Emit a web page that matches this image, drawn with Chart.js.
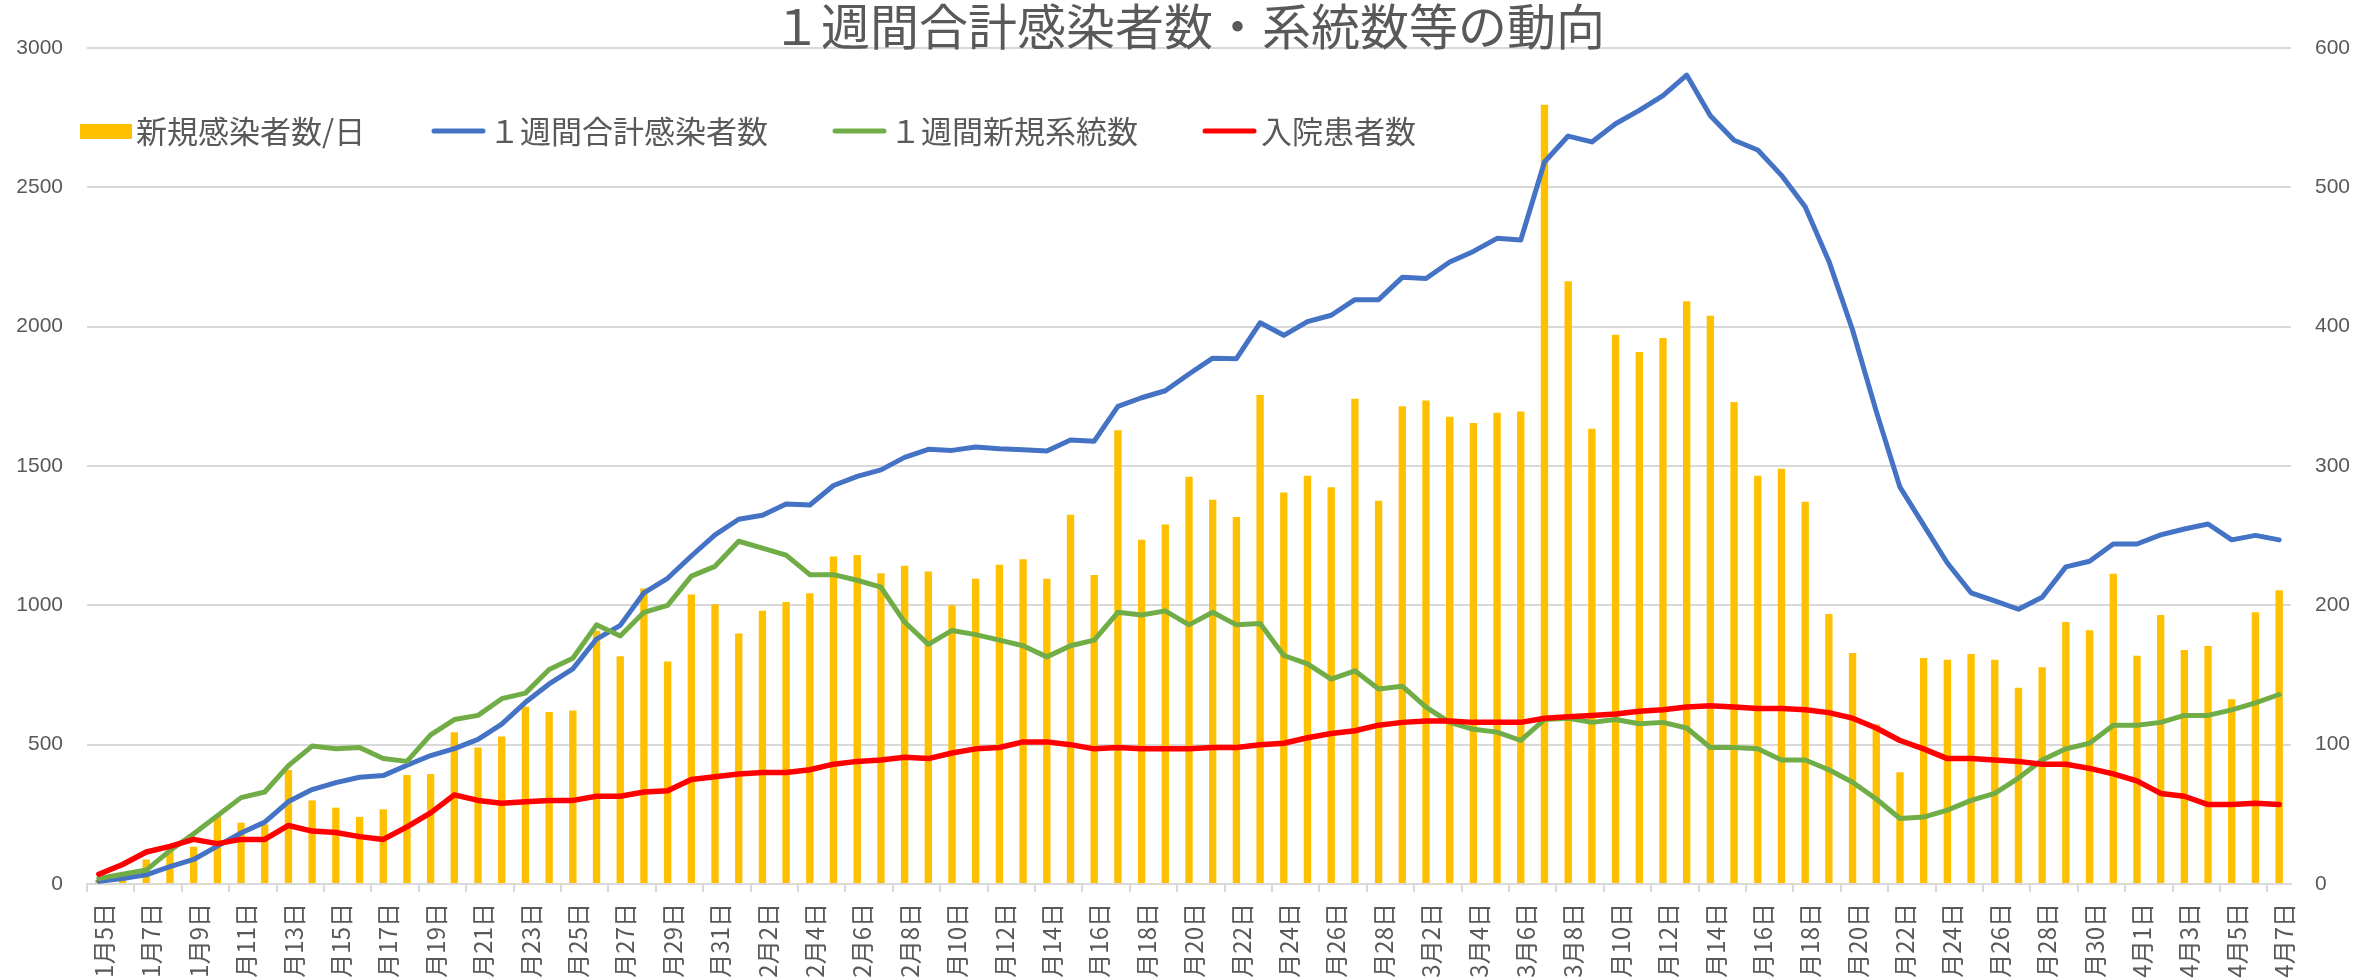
<!DOCTYPE html>
<html><head><meta charset="utf-8">
<script src="https://cdn.jsdelivr.net/npm/chart.js@4/dist/chart.umd.min.js"></script>
<style>html,body{margin:0;padding:0;background:#fff;overflow:hidden}canvas{display:block}</style>
</head><body>
<canvas id="c" width="2377" height="978"></canvas>
<script>
const categories = [
 '1月5日','1月6日','1月7日','1月8日','1月9日','1月10日','1月11日','1月12日','1月13日','1月14日',
 '1月15日','1月16日','1月17日','1月18日','1月19日','1月20日','1月21日','1月22日','1月23日','1月24日',
 '1月25日','1月26日','1月27日','1月28日','1月29日','1月30日','1月31日',
 '2月1日','2月2日','2月3日','2月4日','2月5日','2月6日','2月7日','2月8日','2月9日','2月10日',
 '2月11日','2月12日','2月13日','2月14日','2月15日','2月16日','2月17日','2月18日','2月19日','2月20日',
 '2月21日','2月22日','2月23日','2月24日','2月25日','2月26日','2月27日','2月28日',
 '3月1日','3月2日','3月3日','3月4日','3月5日','3月6日','3月7日','3月8日','3月9日','3月10日',
 '3月11日','3月12日','3月13日','3月14日','3月15日','3月16日','3月17日','3月18日','3月19日','3月20日',
 '3月21日','3月22日','3月23日','3月24日','3月25日','3月26日','3月27日','3月28日','3月29日','3月30日','3月31日',
 '4月1日','4月2日','4月3日','4月4日','4月5日','4月6日','4月7日'
];
// 新規感染者数/日 (left axis)
const newCases = [
 15,40,88,140,134,243,220,214,409,300,
 274,241,268,391,395,545,490,529,636,617,
 623,909,817,1060,798,1039,1004,899,981,1012,
 1043,1175,1181,1115,1142,1121,1000,1095,1146,1165,
 1095,1325,1109,1628,1235,1290,1461,1379,1317,1755,
 1405,1465,1424,1741,1375,1714,1735,1677,1654,1691,
 1696,2796,2163,1634,1971,1909,1959,2091,2039,1730,
 1465,1490,1372,969,829,572,401,811,805,825,
 805,704,778,940,911,1113,819,965,840,854,
 663,975,1054
];
// １週間合計感染者数 (left axis)
const weeklyTotal = [
 10,20,33,62,88,136,183,222,296,339,
 364,383,389,426,461,486,519,574,652,718,
 772,879,928,1045,1097,1177,1253,1309,1323,1364,
 1360,1430,1463,1486,1531,1560,1556,1568,1562,1558,
 1554,1593,1589,1714,1745,1770,1830,1887,1885,2014,
 1969,2018,2041,2097,2097,2177,2173,2232,2270,2317,
 2311,2591,2684,2663,2728,2776,2829,2903,2757,2669,
 2634,2543,2430,2235,1988,1696,1424,1288,1152,1045,
 1016,986,1029,1138,1158,1220,1220,1253,1274,1292,
 1235,1251,1235
];
// １週間新規系統数 (right axis)
const weeklyClusters = [
 4,7,10,24,36,49,62,66,85,99,
 97,98,90,88,107,118,121,133,137,154,
 162,186,178,195,200,221,228,246,241,236,
 222,222,218,213,188,172,182,179,175,171,
 163,171,175,195,193,196,186,195,186,187,
 164,158,147,153,140,142,127,116,111,109,
 103,118,119,116,118,115,116,112,98,98,
 97,89,89,82,73,61,47,48,53,60,
 65,76,89,97,101,114,114,116,121,121,
 125,130,136
];
// 入院患者数 (right axis)
const hospitalized = [
 7,14,23,27,32,29,32,32,42,38,
 37,34,32,41,51,64,60,58,59,60,
 60,63,63,66,67,75,77,79,80,80,
 82,86,88,89,91,90,94,97,98,102,
 102,100,97,98,97,97,97,98,98,100,
 101,105,108,110,114,116,117,117,116,116,
 116,119,120,121,122,124,125,127,128,127,
 126,126,125,123,119,112,103,97,90,90,
 89,88,86,86,83,79,74,65,63,57,
 57,58,57
];
const leftTicks = [0,500,1000,1500,2000,2500,3000];
const rightTicks = [0,100,200,300,400,500,600];
const seriesNames = ['新規感染者数/日','１週間合計感染者数','１週間新規系統数','入院患者数'];
const seriesColors = ['#FFC000','#4472C4','#70AD47','#FF0000'];
const titleText = '１週間合計感染者数・系統数等の動向';

const GRAY = '#595959';
const GRID = '#d9d9d9';
const CJK = '"Noto Sans CJK JP", "Noto Sans", sans-serif';
const NUMFONT = '"Liberation Sans", Arial, sans-serif';

const legendPlugin = {
  id: 'customLegend',
  afterDraw(chart) {
    const ctx = chart.ctx;
    const y = 131;
    const items = [
      {kind:'box', x0:80, x1:132, tx:136},
      {kind:'line', x0:431, x1:486, tx:489},
      {kind:'line', x0:832, x1:887, tx:890},
      {kind:'line', x0:1202, x1:1257, tx:1261}
    ];
    ctx.save();
    ctx.font = '31px ' + CJK;
    ctx.textBaseline = 'middle';
    ctx.textAlign = 'left';
    items.forEach((it, i) => {
      if (it.kind === 'box') {
        ctx.fillStyle = seriesColors[i];
        ctx.fillRect(it.x0, y - 7, it.x1 - it.x0, 15);
      } else {
        ctx.strokeStyle = seriesColors[i];
        ctx.lineWidth = 5;
        ctx.lineCap = 'round';
        ctx.beginPath();
        ctx.moveTo(it.x0 + 3, y);
        ctx.lineTo(it.x1 - 3, y);
        ctx.stroke();
      }
      ctx.fillStyle = GRAY;
      ctx.fillText(seriesNames[i], it.tx, y);
    });
    ctx.restore();
  }
};

new Chart(document.getElementById('c'), {
  type: 'bar',
  data: {
    labels: categories,
    datasets: [
      {type:'line', label: seriesNames[3], data: hospitalized, yAxisID:'y1', borderColor: seriesColors[3], backgroundColor: seriesColors[3], borderWidth: 5.5, pointRadius: 0, tension: 0, borderCapStyle:'round', borderJoinStyle:'round', order: 1},
      {type:'line', label: seriesNames[2], data: weeklyClusters, yAxisID:'y1', borderColor: seriesColors[2], backgroundColor: seriesColors[2], borderWidth: 5, pointRadius: 0, tension: 0, borderCapStyle:'round', borderJoinStyle:'round', order: 2},
      {type:'line', label: seriesNames[1], data: weeklyTotal, yAxisID:'y', borderColor: seriesColors[1], backgroundColor: seriesColors[1], borderWidth: 5, pointRadius: 0, tension: 0, borderCapStyle:'round', borderJoinStyle:'round', order: 3},
      {type:'bar', label: seriesNames[0], data: newCases, yAxisID:'y', backgroundColor: seriesColors[0], barPercentage: 0.31, categoryPercentage: 1, order: 10}
    ]
  },
  options: {
    responsive: false,
    animation: false,
    devicePixelRatio: 1,
    layout: {padding: 0},
    plugins: {
      legend: {display: false},
      tooltip: {enabled: false},
      title: {
        display: true,
        text: titleText,
        color: GRAY,
        font: {family: CJK, size: 49, weight: 'normal', lineHeight: 1},
        padding: {top: 2, bottom: -3}
      }
    },
    scales: {
      x: {
        offset: true,
        grid: {
          offset: true,
          drawOnChartArea: false,
          drawTicks: true,
          tickLength: 8,
          lineWidth: 2,
          color: (c) => (c.index % 2 === 0 ? GRID : 'rgba(0,0,0,0)')
        },
        border: {display: true, color: GRID, width: 2},
        ticks: {
          autoSkip: false,
          minRotation: 90,
          maxRotation: 90,
          padding: 11,
          labelOffset: 5,
          color: GRAY,
          font: {family: CJK, size: 24},
          callback: function(v, i) { return i % 2 === 0 ? categories[i] : ''; }
        },
        afterFit: (s) => { s.height = 94; }
      },
      y: {
        position: 'left',
        min: leftTicks[0],
        max: leftTicks[leftTicks.length - 1],
        afterBuildTicks: (s) => { s.ticks = leftTicks.map(v => ({value: v})); },
        grid: {color: GRID, lineWidth: 2, drawTicks: false},
        border: {display: false},
        ticks: {color: GRAY, padding: 24, font: {family: NUMFONT, size: 21}, callback: (v) => String(v)},
        afterFit: (s) => { s.width = 87; }
      },
      y1: {
        position: 'right',
        min: rightTicks[0],
        max: rightTicks[rightTicks.length - 1],
        afterBuildTicks: (s) => { s.ticks = rightTicks.map(v => ({value: v})); },
        grid: {drawOnChartArea: false, drawTicks: false},
        border: {display: false},
        ticks: {color: GRAY, padding: 24, font: {family: NUMFONT, size: 21}, callback: (v) => String(v)},
        afterFit: (s) => { s.width = 86; }
      }
    }
  },
  plugins: [legendPlugin]
});
</script>
</body></html>
